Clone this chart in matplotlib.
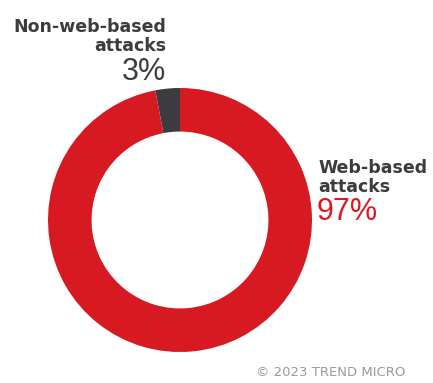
import matplotlib
matplotlib.use("Agg")
import matplotlib.pyplot as plt

labels = ["Non-web-based attacks", "Web-based attacks"]
shares = [3, 97]
colors = ["#3c3c3e", "#d71a21"]

W, H = 433, 383
fig = plt.figure(figsize=(W / 100, H / 100), dpi=100)

# donut placed by pixel geometry
cx, cy, r = 180, 220, 132
ax = fig.add_axes([(cx - r) / W, (H - cy - r) / H, 2 * r / W, 2 * r / H])
ax.pie(shares, colors=colors, startangle=90, counterclock=True,
       wedgeprops=dict(width=0.33, edgecolor="none"), radius=1)
ax.set_xlim(-1, 1); ax.set_ylim(-1, 1)
ax.set_aspect("equal")
ax.axis("off")


def px(x, y):
    return x / W, 1 - y / H


bold = dict(family="DejaVu Sans", weight="bold", fontsize=12.5, color="#3c3c3e")
light = dict(family="Liberation Sans", weight="normal", fontsize=22)

fig.text(*px(166, 27), "Non-web-based", ha="right", va="center", **bold)
fig.text(*px(166, 46), "attacks", ha="right", va="center", **bold)
fig.text(*px(166, 72), f"{shares[0]}%", ha="right", va="center", color="#3c3c3e", **light)

fig.text(*px(318, 168), "Web-based", ha="left", va="center", **bold)
fig.text(*px(318, 187), "attacks", ha="left", va="center", **bold)
fig.text(*px(317, 212), f"{shares[1]}%", ha="left", va="center", color="#d71a21", **light)

fig.text(*px(405, 373), "© 2023 TREND MICRO", ha="right", va="center",
         family="DejaVu Sans", fontsize=9.5, color="#9a9a9a")

fig.savefig("out.png", dpi=100)
